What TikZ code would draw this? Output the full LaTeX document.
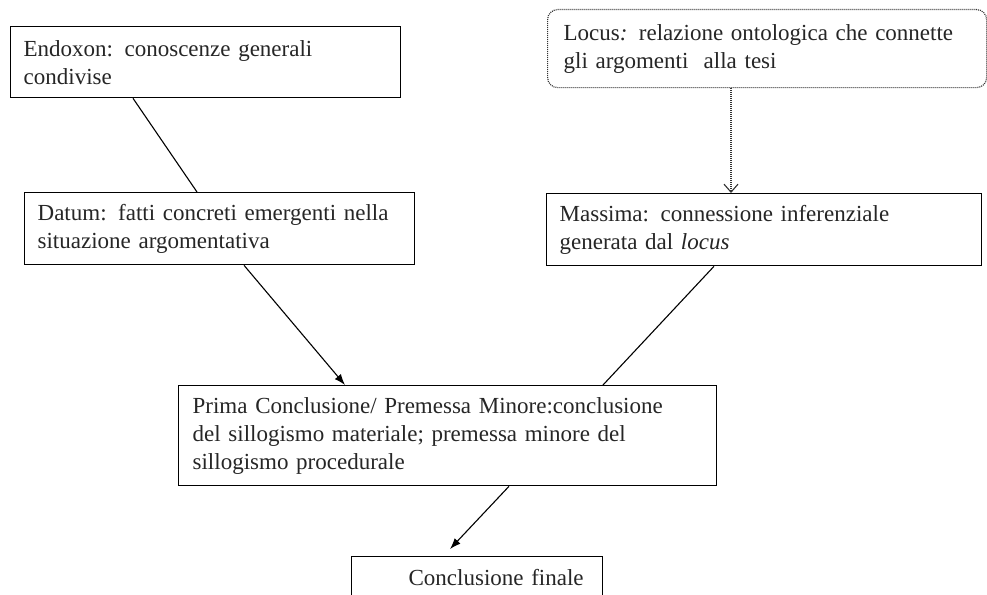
\documentclass[tikz,border=0pt]{standalone}
\usepackage{fontspec}
\setmainfont{Liberation Serif}[WordSpace=1.7]
\usetikzlibrary{arrows.meta}
\tikzset{
  x=1pt, y=-1pt,
  boxnode/.style={draw=black, line width=1.3pt, rectangle, anchor=north west,
    align=left, inner ysep=0pt, font=\fontsize{23}{28}\selectfont, text=black!85},
  dotbox/.style={boxnode, draw=black!80, line width=1.2pt, dash pattern=on 1pt off 1pt, rounded corners=10pt},
  conn/.style={draw=black, line width=1.1pt},
  arr/.style={conn, -{Latex[length=11pt,width=8pt]}},
  dotarr/.style={draw=black!80, line width=1.1pt, dash pattern=on 1pt off 1pt,
    -{Straight Barb[length=8pt,width=14pt,line width=1.1pt]}},
}
\begin{document}
\begin{tikzpicture}
\clip (0,0) rectangle (987,594);
\fill[white] (0,0) rectangle (987,594);

\node[boxnode, minimum width=390pt, minimum height=71pt, inner xsep=13pt, text width=364pt]
  (endoxon) at (10,26) {Endoxon: conoscenze generali\\condivise};
\node[boxnode, minimum width=390pt, minimum height=72pt, inner xsep=13pt, text width=364pt]
  (datum) at (24,192) {Datum: fatti concreti emergenti nella\\situazione argomentativa};
\node[dotbox, minimum width=439pt, minimum height=78pt, inner xsep=16pt, text width=407pt]
  (locus) at (547,9) {Locus\textit{:} relazione ontologica che connette\\gli argomenti\ \ alla tesi};
\node[boxnode, minimum width=435pt, minimum height=72pt, inner xsep=13pt, text width=409pt]
  (massima) at (546,193) {Massima: connessione inferenziale\\generata dal \textit{locus}};
\node[boxnode, minimum width=538pt, minimum height=100pt, inner xsep=14pt, text width=510pt]
  (prima) at (178,385) {Prima Conclusione/ Premessa Minore:conclusione\\del sillogismo materiale; premessa minore del\\sillogismo procedurale};
\node[boxnode, minimum width=251pt, minimum height=42pt, inner xsep=10pt, text width=231pt]
  (conc) at (351,556) {\hspace*{47pt}Conclusione finale};

\draw[conn] (133,0 |- endoxon.south) -- (197,0 |- datum.north);
\draw[arr] (244,0 |- datum.south) -- (345,0 |- prima.north);
\draw[dotarr] (731,0 |- locus.south) -- (731,0 |- massima.north);
\draw[conn] (714,0 |- massima.south) -- (603,0 |- prima.north);
\draw[arr] (509,0 |- prima.south) -- (450,549);
\end{tikzpicture}
\end{document}
